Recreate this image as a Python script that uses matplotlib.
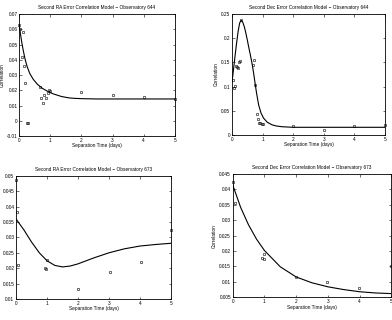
import matplotlib
matplotlib.use("Agg")
import matplotlib.pyplot as plt
from matplotlib.ticker import FuncFormatter

plt.rcParams['font.family'] = ['Liberation Sans', 'DejaVu Sans']

# ---------------- data ----------------
titles = [
    "Second RA Error Correlation Model \u2212 Observatory 644",
    "Second Dec Error Correlation Model \u2212 Observatory 644",
    "Second RA Error Correlation Model \u2212 Observatory 673",
    "Second Dec Error Correlation Model \u2212 Observatory 673",
]
xlabel = "Separation Time (days)"
ylabel = "Correlation"

# Panel 1: RA 644
p1_x = [0.0, 0.04, 0.13, 0.09, 0.16, 0.20, 0.26, 0.29, 0.67, 0.71, 0.75, 0.79,
        0.87, 0.91, 0.95, 0.99, 2.0, 3.0, 4.0, 5.0]
p1_y = [0.0628, 0.0600, 0.0584, 0.0420, 0.0357, 0.0250, -0.0017, -0.0017, 0.0220,
        0.0149, 0.0114, 0.0167, 0.0151, 0.0184, 0.0202, 0.0195, 0.0189, 0.0167,
        0.0153, 0.0145]
c1_x = [0.0, 0.04, 0.08, 0.12, 0.18, 0.25, 0.34, 0.45, 0.59, 0.75, 0.93, 1.1,
        1.36, 1.6, 1.79, 2.0, 2.5, 3.0, 4.0, 5.0]
c1_y = [0.0628, 0.0570, 0.0518, 0.0472, 0.0412, 0.0358, 0.0310, 0.0272, 0.0238,
        0.0212, 0.0191, 0.0176, 0.0159, 0.0150, 0.0147, 0.0145, 0.0143, 0.0143,
        0.0143, 0.0143]

# Panel 2: Dec 644
p2_x = [0.02, 0.05, 0.09, 0.12, 0.15, 0.18, 0.22, 0.26, 0.30, 0.67, 0.72, 0.76,
        0.80, 0.85, 0.89, 0.92, 0.97, 1.01, 2.0, 3.0, 4.0, 5.0]
p2_y = [0.1136, 0.098, 0.102, 0.143, 0.140, 0.138, 0.150, 0.153, 0.237, 0.144,
        0.155, 0.1025, 0.044, 0.033, 0.025, 0.025, 0.0235, 0.022, 0.018, 0.0104,
        0.0194, 0.020]
c2_x = [0.0, 0.05, 0.10, 0.15, 0.20, 0.25, 0.30, 0.35, 0.40, 0.45, 0.50, 0.55,
        0.60, 0.65, 0.70, 0.76, 0.80, 0.87, 0.95, 1.03, 1.15, 1.31, 1.45, 1.63,
        2.0, 3.0, 4.0, 5.0]
c2_y = [0.110, 0.137, 0.165, 0.191, 0.215, 0.232, 0.237, 0.233, 0.224, 0.211,
        0.196, 0.180, 0.165, 0.149, 0.130, 0.104, 0.087, 0.062, 0.045, 0.035,
        0.0265, 0.0210, 0.0187, 0.0172, 0.016, 0.016, 0.016, 0.016]

# Panel 3: RA 673
p3_x = [0.0, 0.04, 0.065, 0.99, 0.93, 0.96, 2.0, 3.02, 4.02, 5.0]
p3_y = [0.0487, 0.0383, 0.0210, 0.0226, 0.0200, 0.0196, 0.0132, 0.0187, 0.0220,
        0.0323]
c3_x = [0.0, 0.25, 0.5, 0.75, 1.0, 1.25, 1.5, 1.75, 2.0, 2.5, 3.0, 3.5, 4.0,
        4.5, 5.0]
c3_y = [0.0360, 0.0325, 0.0285, 0.0250, 0.0224, 0.0209, 0.0204, 0.0207, 0.0214,
        0.0233, 0.0250, 0.0263, 0.0272, 0.0277, 0.0281]

# Panel 4: Dec 673
p4_x = [0.0, 0.06, 0.92, 1.0, 0.98, 2.0, 2.98, 3.98, 5.0]
p4_y = [0.0425, 0.0355, 0.0179, 0.0173, 0.0189, 0.0116, 0.0100, 0.0079, 0.0152]
c4_x = [0.0, 0.25, 0.5, 0.75, 1.0, 1.5, 2.0, 2.5, 3.0, 3.5, 4.0, 4.5, 5.0]
c4_y = [0.0415, 0.0342, 0.0285, 0.0239, 0.0202, 0.0149, 0.0116, 0.0097, 0.0084,
        0.0075, 0.0068, 0.0064, 0.0062]

panels = [
    dict(px=p1_x, py=p1_y, cx=c1_x, cy=c1_y, ylim=(-0.01, 0.07),
         yticks=[-0.01, 0, 0.01, 0.02, 0.03, 0.04, 0.05, 0.06, 0.07],
         rect=[0.049, 0.575, 0.397, 0.381], ylab=True),
    dict(px=p2_x, py=p2_y, cx=c2_x, cy=c2_y, ylim=(0, 0.25),
         yticks=[0, 0.05, 0.1, 0.15, 0.2, 0.25],
         rect=[0.592, 0.578, 0.390, 0.378], ylab=True),
    dict(px=p3_x, py=p3_y, cx=c3_x, cy=c3_y, ylim=(0.01, 0.05),
         yticks=[0.01, 0.015, 0.02, 0.025, 0.03, 0.035, 0.04, 0.045, 0.05],
         rect=[0.041, 0.066, 0.395, 0.384], ylab=False),
    dict(px=p4_x, py=p4_y, cx=c4_x, cy=c4_y, ylim=(0.005, 0.045),
         yticks=[0.005, 0.01, 0.015, 0.02, 0.025, 0.03, 0.035, 0.04, 0.045],
         rect=[0.5936, 0.071, 0.4046, 0.385], ylab=True),
]

fig = plt.figure(figsize=(3.92, 3.20), dpi=100)
fs = 3.4
for title, p in zip(titles, panels):
    ax = fig.add_axes(p['rect'])
    ax.plot(p['cx'], p['cy'], color='black', lw=0.8, zorder=2)
    ax.plot(p['px'], p['py'], linestyle='none', marker='s', ms=1.7,
            mfc='none', mec='black', mew=0.4, zorder=3, clip_on=False)
    ax.set_xlim(0, 5)
    ax.set_ylim(*p['ylim'])
    ax.set_xticks([0, 1, 2, 3, 4, 5])
    ax.set_yticks(p['yticks'])
    ax.yaxis.set_major_formatter(FuncFormatter(lambda v, pos: '%g' % round(v, 4)))
    ax.tick_params(direction='in', length=1.8, width=0.4, labelsize=fs, pad=1.2,
                   top=True, right=True)
    for s in ax.spines.values():
        s.set_linewidth(0.6)
    ax.set_title(title, fontsize=fs, pad=3.5)
    ax.set_xlabel(xlabel, fontsize=fs, labelpad=0.5)
    if p['ylab']:
        ax.set_ylabel(ylabel, fontsize=fs, labelpad=1.5)

fig.savefig("out.png", dpi=100)
